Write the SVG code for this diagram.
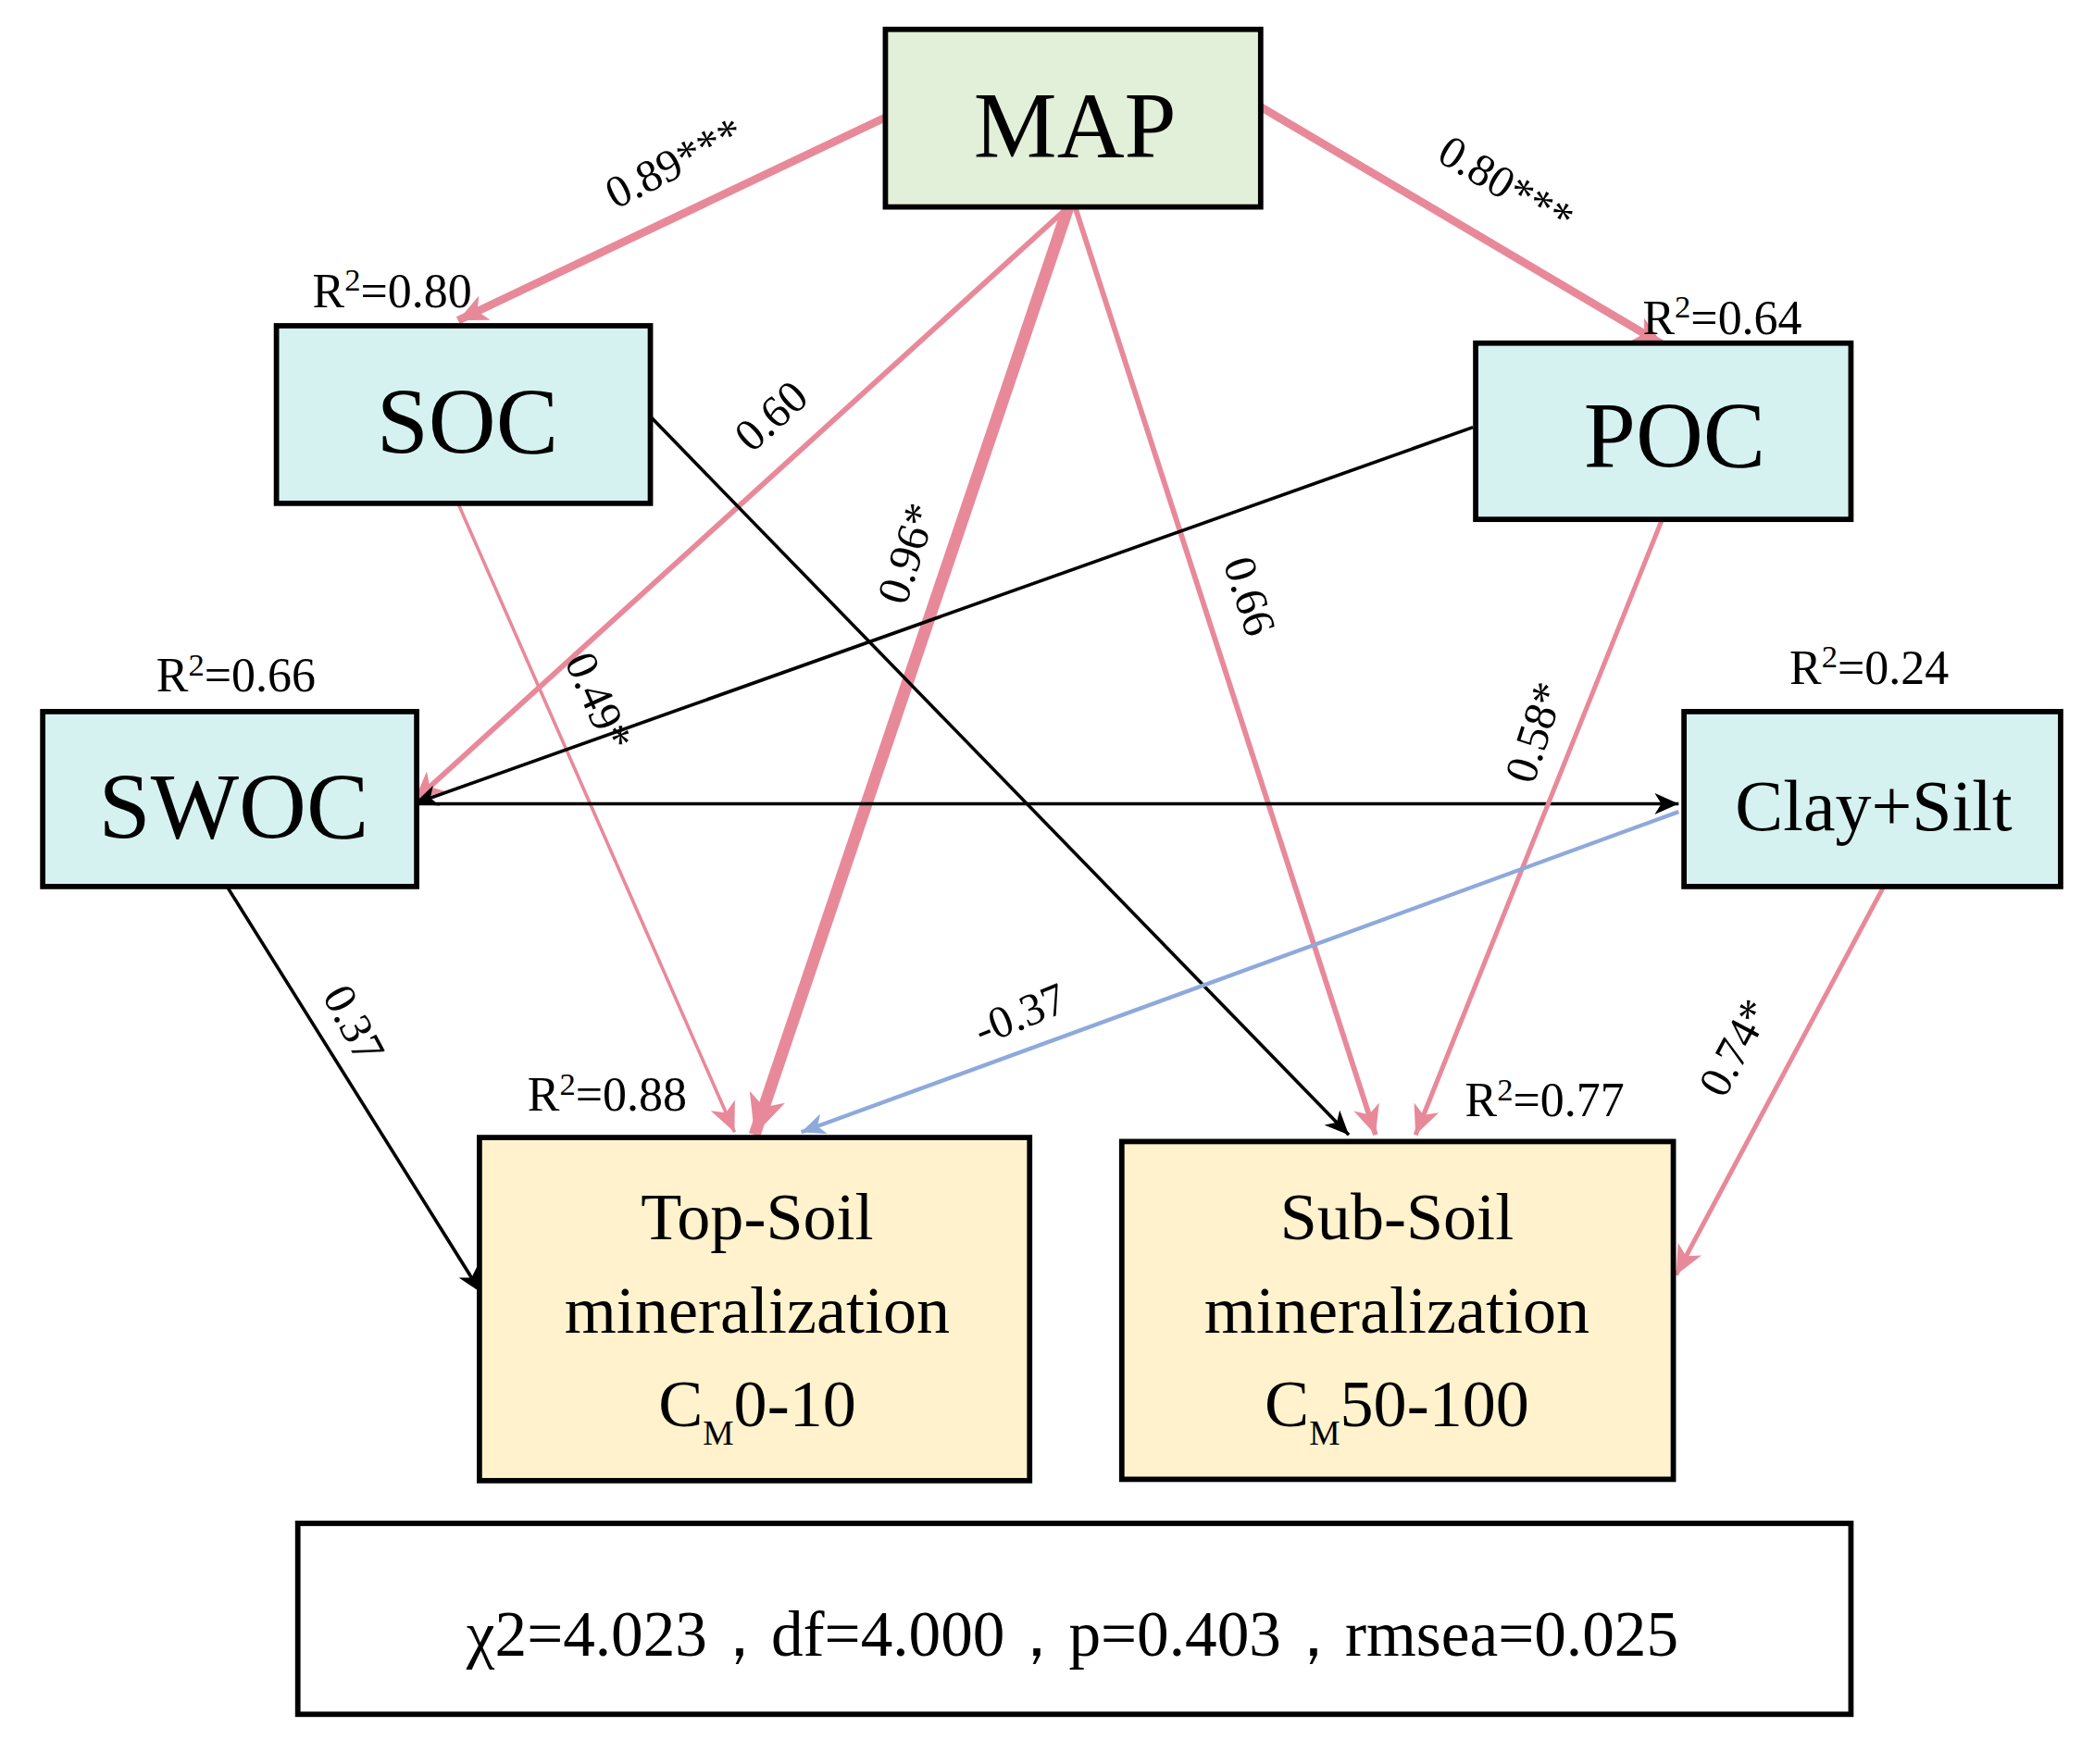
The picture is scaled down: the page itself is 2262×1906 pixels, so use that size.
<svg xmlns="http://www.w3.org/2000/svg" width="2262" height="1906" viewBox="0 0 2262 1906">
<style>
.box{stroke:#000;stroke-width:4}
.t{font-family:"Liberation Serif",serif;fill:#000}
.big{font-size:70px}
.mid{font-size:50px}
.r{font-size:36px}
.e{font-size:34px}
.pk{stroke:#E8899A;fill:none}
.bk{stroke:#000;fill:none;stroke-width:2.5}
.bl{stroke:#8EA9DB;fill:none;stroke-width:3}
</style>
<defs>
<marker id="ap" markerUnits="userSpaceOnUse" markerWidth="24" markerHeight="20" refX="22" refY="10" orient="auto"><path d="M0,0 L22,10 L0,20 L6,10 z" fill="#E8899A"/></marker>
<marker id="apb" markerUnits="userSpaceOnUse" markerWidth="32" markerHeight="28" refX="30" refY="14" orient="auto"><path d="M0,0 L30,14 L0,28 L8,14 z" fill="#E8899A"/></marker>
<marker id="ak" markerUnits="userSpaceOnUse" markerWidth="20" markerHeight="16" refX="18" refY="8" orient="auto"><path d="M0,0 L18,8 L0,16 L5,8 z" fill="#000"/></marker>
<marker id="ab" markerUnits="userSpaceOnUse" markerWidth="20" markerHeight="16" refX="18" refY="8" orient="auto"><path d="M0,0 L18,8 L0,16 L5,8 z" fill="#8EA9DB"/></marker>
</defs>
<rect width="2262" height="1906" fill="#fff"/>
<g transform="scale(1.4426)">
<g id="connectors">
<line class="pk" stroke-width="6" x1="663" y1="88" x2="343" y2="240" marker-end="url(#ap)"/>
<line class="pk" stroke-width="6" x1="944" y1="80" x2="1245" y2="258" marker-end="url(#ap)"/>
<line class="pk" stroke-width="4" x1="800" y1="155" x2="310" y2="600" marker-end="url(#ap)"/>
<line class="pk" stroke-width="9" x1="800" y1="155" x2="565" y2="850" marker-end="url(#apb)"/>
<line class="pk" stroke-width="4" x1="805" y1="155" x2="1030" y2="850" marker-end="url(#ap)"/>
<line class="pk" stroke-width="2.5" x1="343" y1="377" x2="550" y2="848" marker-end="url(#ap)"/>
<line class="bk" x1="487" y1="312" x2="1010" y2="850" marker-end="url(#ak)"/>
<line class="bk" stroke-width="2" x1="1103" y1="320" x2="310" y2="602" marker-end="url(#ak)"/>
<line class="bk" x1="312" y1="602" x2="1257" y2="602" marker-end="url(#ak)"/>
<line class="pk" stroke-width="3.5" x1="1245" y1="388" x2="1060" y2="850" marker-end="url(#ap)"/>
<line class="bl" x1="1257" y1="608" x2="600" y2="848" marker-end="url(#ab)"/>
<line class="pk" stroke-width="3.5" x1="1410" y1="665" x2="1255" y2="955" marker-end="url(#ap)"/>
<line class="bk" x1="170" y1="664" x2="360" y2="968" marker-end="url(#ak)"/>
</g>
<g id="edge-labels" class="t e" text-anchor="middle">
<text transform="translate(510,132) rotate(-27)">0.89***</text>
<text transform="translate(1122,148) rotate(31)">0.80***</text>
<text transform="translate(585,320) rotate(-42)">0.60</text>
<text transform="translate(690,418) rotate(-72)">0.96*</text>
<text transform="translate(925,450) rotate(72)">0.66</text>
<text transform="translate(438,530) rotate(66)">0.49*</text>
<text transform="translate(1160,552) rotate(-72)">0.58*</text>
<text transform="translate(768,770) rotate(-22)">-0.37</text>
<text transform="translate(1309,790) rotate(-62)">0.74*</text>
<text transform="translate(255,772) rotate(62)">0.37</text>
</g>
<g id="MAP"><rect class="box" x="663" y="22" width="281" height="133" fill="#E2EFD9"/><text class="t big" x="805" y="118" text-anchor="middle">MAP</text></g>
<g id="SOC"><rect class="box" x="207" y="244" width="280" height="133" fill="#D5F2F0"/><text class="t big" x="350" y="340" text-anchor="middle">SOC</text><text class="t r" x="234" y="230">R<tspan font-size="24" dy="-12">2</tspan><tspan dy="12">=0.80</tspan></text></g>
<g id="POC"><rect class="box" x="1105" y="257" width="281" height="132" fill="#D5F2F0"/><text class="t big" x="1254" y="350" text-anchor="middle">POC</text><text class="t r" x="1230" y="250">R<tspan font-size="24" dy="-12">2</tspan><tspan dy="12">=0.64</tspan></text></g>
<g id="SWOC"><rect class="box" x="32" y="533" width="280" height="131" fill="#D5F2F0"/><text class="t big" x="175" y="628" text-anchor="middle">SWOC</text><text class="t r" x="117" y="518">R<tspan font-size="24" dy="-12">2</tspan><tspan dy="12">=0.66</tspan></text></g>
<g id="ClaySilt"><rect class="box" x="1261" y="533" width="282" height="131" fill="#D5F2F0"/><text class="t" font-size="54" x="1403" y="622" text-anchor="middle">Clay+Silt</text><text class="t r" x="1340" y="512">R<tspan font-size="24" dy="-12">2</tspan><tspan dy="12">=0.24</tspan></text></g>
<g id="TopSoil"><rect class="box" x="359" y="852" width="412" height="257" fill="#FFF2CC"/>
<text class="t mid" text-anchor="middle"><tspan x="567" y="928">Top-Soil</tspan><tspan x="567" y="998">mineralization</tspan><tspan x="567" y="1068">C<tspan font-size="26" dy="14">M</tspan><tspan dy="-14">0-10</tspan></tspan></text>
<text class="t r" x="395" y="832">R<tspan font-size="24" dy="-12">2</tspan><tspan dy="12">=0.88</tspan></text></g>
<g id="SubSoil"><rect class="box" x="840" y="855" width="413" height="253" fill="#FFF2CC"/>
<text class="t mid" text-anchor="middle"><tspan x="1046" y="928">Sub-Soil</tspan><tspan x="1046" y="998">mineralization</tspan><tspan x="1046" y="1068">C<tspan font-size="26" dy="14">M</tspan><tspan dy="-14">50-100</tspan></tspan></text>
<text class="t r" x="1097" y="836">R<tspan font-size="24" dy="-12">2</tspan><tspan dy="12">=0.77</tspan></text></g>
<g id="stats"><rect class="box" x="223" y="1141" width="1163" height="143" fill="#fff"/><text class="t" font-size="48" x="803" y="1240" text-anchor="middle">χ2=4.023，df=4.000，p=0.403，rmsea=0.025</text></g>
</g>
</svg>
